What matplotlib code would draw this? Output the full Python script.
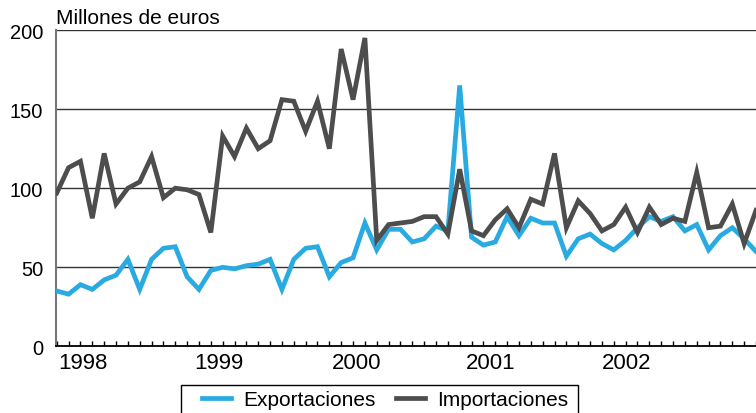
import matplotlib
matplotlib.use("Agg")
import matplotlib.pyplot as plt
from matplotlib.patches import Rectangle
from matplotlib.ticker import FixedLocator, NullFormatter

# monthly values, millones de euros
exportaciones = [
    35, 33, 39, 36, 42, 45, 55, 36, 55, 62,
    63, 44, 36, 48, 50, 49, 51, 52, 55, 36,
    55, 62, 63, 44, 53, 56, 78, 61, 74, 74,
    66, 68, 76, 73, 165, 69, 64, 66, 82, 70,
    81, 78, 78, 57, 68, 71, 65, 61, 67, 75,
    82, 79, 82, 73, 77, 61, 70, 75, 68, 60,
]
importaciones = [
    97, 113, 117, 81, 122, 90, 100, 104, 120, 94,
    100, 99, 96, 72, 133, 120, 138, 125, 130, 156,
    155, 136, 155, 125, 188, 156, 195, 67, 77, 78,
    79, 82, 82, 71, 112, 73, 70, 80, 87, 75,
    93, 90, 122, 75, 92, 84, 73, 77, 88, 72,
    88, 77, 81, 79, 110, 75, 76, 90, 65, 86,
]
year_labels = ["1998", "1999", "2000", "2001", "2002"]
year_label_pos = [2.2, 13.7, 25.3, 36.6, 48.1]
y_ticks = [0, 50, 100, 150, 200]

BLUE = "#29abe2"
GREY = "#4d4d4d"
FONT = "Liberation Sans"
W, H = 756, 414

months = list(range(len(exportaciones)))

fig = plt.figure(figsize=(W / 100, H / 100), dpi=100)
ax = fig.add_axes([0.0735, 0.161, 0.9265, 0.764])

ax.plot(months, exportaciones, color=BLUE, lw=3.4, solid_joinstyle="miter",
        label="Exportaciones", zorder=3)
ax.plot(months, importaciones, color=GREY, lw=3.4, solid_joinstyle="miter",
        label="Importaciones", zorder=4)

ax.set_xlim(-0.1, len(months) - 1)
ax.set_ylim(0, 200)

ax.set_yticks(y_ticks)
ax.set_yticklabels([str(v) for v in y_ticks], family=FONT, fontsize=14.5)
ax.tick_params(axis="y", length=0, pad=9)
ax.yaxis.grid(True, color="#333333", lw=1.0)
ax.set_axisbelow(True)

ax.xaxis.set_major_locator(FixedLocator(year_label_pos))
ax.set_xticklabels(year_labels, family=FONT, fontsize=16)
ax.xaxis.set_minor_locator(FixedLocator(months))
ax.xaxis.set_minor_formatter(NullFormatter())
ax.tick_params(axis="x", which="major", length=0, pad=4)
ax.tick_params(axis="x", which="minor", direction="in", length=3.6,
               width=1.0, color="black")

for side in ("top", "right"):
    ax.spines[side].set_visible(False)
ax.spines["left"].set_color("#777777")
ax.spines["left"].set_linewidth(1.5)
ax.spines["bottom"].set_color("black")
ax.spines["bottom"].set_linewidth(1.3)

fig.text(56 / W, 1 - 18 / H, "Millones de euros", family=FONT,
         fontsize=15, va="center", ha="left")

# legend without its own frame; the box runs off the bottom edge
leg = fig.legend(loc="center left", bbox_to_anchor=(202 / W, 1 - 401 / H),
                 ncol=2, frameon=False, prop={"family": FONT, "size": 15},
                 handlelength=1.4, handletextpad=0.6, columnspacing=0.95,
                 borderpad=0, borderaxespad=0)
fig.patches.append(Rectangle((181 / W, -10 / H), (578 - 181) / W,
                             (H - 386 + 10) / H, transform=fig.transFigure,
                             fill=False, edgecolor="black", lw=1.0))

fig.savefig("out.png", dpi=100)
